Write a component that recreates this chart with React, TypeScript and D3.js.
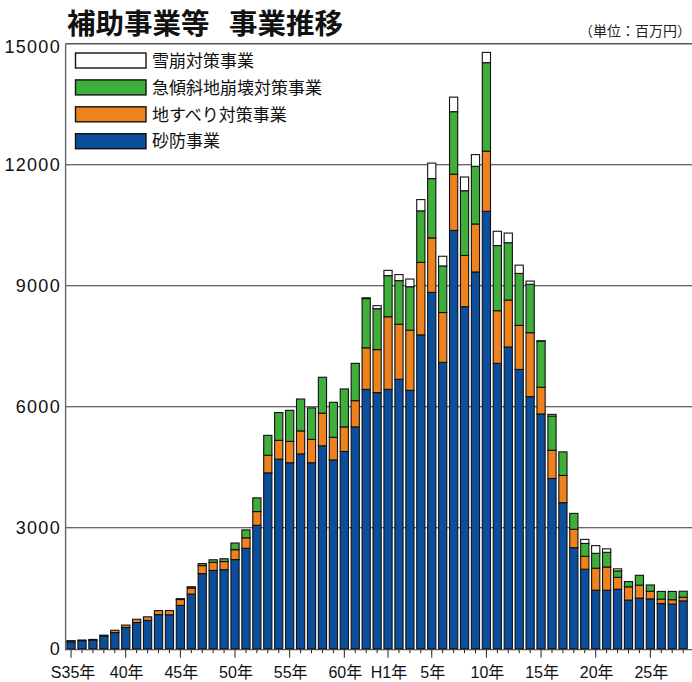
import React from "react";
import * as d3 from "d3";

const years = [
  "S35","S36","S37","S38","S39","S40","S41","S42","S43","S44",
  "S45","S46","S47","S48","S49","S50","S51","S52","S53","S54",
  "S55","S56","S57","S58","S59","S60","S61","S62","S63",
  "H1","H2","H3","H4","H5","H6","H7","H8","H9","H10",
  "H11","H12","H13","H14","H15","H16","H17","H18","H19","H20",
  "H21","H22","H23","H24","H25","H26","H27","H28",
];

// 砂防事業
const sabo = [
  170, 200, 210, 310, 400, 525, 650, 700, 845, 840,
  1075, 1355, 1860, 1940, 1960, 2210, 2490, 3060, 4360, 4700,
  4610, 4830, 4610, 5030, 4680, 4890, 5500, 6430, 6350,
  6430, 6680, 6405, 7780, 8835, 7100, 10370, 8480, 9340, 10845,
  7075, 7480, 6925, 6250, 5820, 4220, 3620, 2505, 1970, 1450,
  1450, 1475, 1205, 1255, 1235, 1120, 1105, 1185,
];
// 地すべり対策事業
const jisuberi = [
  30, 15, 20, 25, 57, 60, 80, 90, 100, 105,
  145, 150, 200, 200, 200, 245, 260, 340, 435, 465,
  530, 570, 580, 810, 560, 610, 650, 1030, 1065,
  1800, 1365, 1490, 1800, 1350, 1235, 1395, 1270, 1190, 1490,
  1305, 1165, 1090, 1585, 660, 700, 675, 455, 320, 545,
  575, 295, 330, 320, 190, 110, 110, 90,
];
// 急傾斜地崩壊対策事業
const kyukeisha = [
  0, 0, 0, 0, 0, 0, 0, 0, 0, 0,
  20, 30, 50, 65, 70, 165, 195, 340, 495, 690,
  770, 790, 780, 890, 870, 940, 925, 1220, 1015,
  1020, 1080, 1080, 1275, 1470, 1155, 1550, 1605, 1430, 2195,
  1615, 1420, 1290, 1200, 1145, 850, 585, 395, 320, 370,
  365, 160, 130, 245, 155, 190, 205, 150,
];
// 雪崩対策事業
const nadare = [
  0, 0, 0, 0, 0, 0, 0, 0, 0, 0,
  0, 0, 0, 0, 0, 0, 0, 0, 0, 0,
  0, 0, 0, 0, 0, 0, 0, 20, 75,
  130, 150, 190, 280, 385, 240, 360, 340, 290, 255,
  355, 240, 205, 80, 10, 40, 0, 0, 100, 190,
  85, 50, 0, 0, 0, 0, 0, 0,
];

const seriesKeys = ["sabo", "jisuberi", "kyukeisha", "nadare"];
const seriesNames = ["砂防事業", "地すべり対策事業", "急傾斜地崩壊対策事業", "雪崩対策事業"];
const seriesColors = ["#0b4f9c", "#f0821e", "#3fae3a", "#ffffff"];

const yTicks = [0, 3000, 6000, 9000, 12000, 15000];
const xLabelYears = ["S35","S40","S45","S50","S55","S60","H1","H5","H10","H15","H20","H25"];
const xLabelTexts = ["S35年","40年","45年","50年","55年","60年","H1年","5年","10年","15年","20年","25年"];

const W = 692;
const H = 682;
const PLOT_LEFT = 65.6;
const PLOT_RIGHT = 692;
const Y0 = 648.7;
const YTOP = 43.7;

const NUM_FONT = "'Liberation Sans', Arial, 'Noto Sans CJK JP', sans-serif";
const JP_FONT = "'Noto Sans CJK JP', 'Liberation Sans', sans-serif";

export default function App() {
  const rows = years.map((y, i) => ({
    year: y,
    sabo: sabo[i],
    jisuberi: jisuberi[i],
    kyukeisha: kyukeisha[i],
    nadare: nadare[i],
  }));

  const x = d3
    .scaleBand<string>()
    .domain(years)
    .range([PLOT_LEFT, PLOT_LEFT + years.length * 10.93])
    .paddingInner(0.25)
    .paddingOuter(0.125);

  const y = d3.scaleLinear().domain([0, 15000]).range([Y0, YTOP]);

  const stack = d3.stack<any>().keys(seriesKeys);
  const layers = stack(rows);

  const cx = (yr: string) => (x(yr) as number) + x.bandwidth() / 2;

  const legendOrder = [3, 2, 1, 0];

  return (
    <svg
      width={W}
      height={H}
      style={{ position: "absolute", left: 0, top: 0, background: "#fff" }}
      xmlns="http://www.w3.org/2000/svg"
    >
      <rect x={0} y={0} width={W} height={H} fill="#fff" />
      {/* Title */}
      <text x={67} y={34} fontFamily={JP_FONT} fontWeight="bold" fontSize={28.5} fill="#111">
        補助事業等
      </text>
      <text x={229} y={34} fontFamily={JP_FONT} fontWeight="bold" fontSize={28.5} fill="#111">
        事業推移
      </text>
      <text x={691} y={36} textAnchor="end" fontFamily={JP_FONT} fontSize={14} fill="#222">
        （単位：百万円）
      </text>

      {/* gridlines */}
      {yTicks
        .filter((t) => t > 0 && t < 15000)
        .map((t) => (
          <line key={t} x1={PLOT_LEFT} x2={PLOT_RIGHT} y1={y(t)} y2={y(t)} stroke="#333" strokeWidth={1.1} />
        ))}

      {/* frame */}
      <line x1={PLOT_LEFT} x2={PLOT_RIGHT} y1={YTOP} y2={YTOP} stroke="#555" strokeWidth={1.4} />
      <line x1={PLOT_LEFT} x2={PLOT_LEFT} y1={YTOP} y2={Y0 + 1.5} stroke="#666" strokeWidth={1.4} />
      <line x1={PLOT_LEFT} x2={PLOT_RIGHT} y1={Y0 + 1} y2={Y0 + 1} stroke="#333" strokeWidth={1} />

      {/* y labels */}
      {yTicks.map((t) => (
        <text
          key={t}
          x={61}
          y={y(t) + (t === 15000 ? 9 : 6.5)}
          textAnchor="end"
          fontFamily={NUM_FONT}
          fontSize={18}
          letterSpacing={1.3}
          fill="#111"
        >
          {t}
        </text>
      ))}

      {/* bars */}
      {layers.map((layer, li) => (
        <g key={seriesKeys[li]}>
          {layer.map((d: any, i: number) => {
            const h = y(d[0]) - y(d[1]);
            if (h <= 0.01) return null;
            return (
              <rect
                key={i}
                x={x(years[i]) as number}
                y={y(d[1])}
                width={x.bandwidth()}
                height={h}
                fill={seriesColors[li]}
                stroke="#111"
                strokeWidth={1.1}
              />
            );
          })}
        </g>
      ))}

      {/* x ticks */}
      {years.map((yr) => {
        const major = xLabelYears.includes(yr);
        return (
          <line
            key={yr}
            x1={cx(yr)}
            x2={cx(yr)}
            y1={Y0 + 1}
            y2={Y0 + (major ? 9 : 4.5)}
            stroke="#222"
            strokeWidth={1}
          />
        );
      })}
      {xLabelYears.map((yr, i) => (
        <text
          key={yr}
          x={cx(yr) + (i === 0 ? 2 : 1)}
          y={678}
          textAnchor="middle"
          fontFamily={NUM_FONT}
          fontSize={16}
          fill="#111"
        >
          {xLabelTexts[i]}
        </text>
      ))}

      {/* legend */}
      {legendOrder.map((si, k) => {
        const top = 53 + k * 26.9;
        return (
          <g key={si}>
            <rect x={75.5} y={top} width={70.5} height={15} fill={seriesColors[si]} stroke="#111" strokeWidth={1.4} />
            <text x={152} y={top + 13.7} fontFamily={JP_FONT} fontSize={17} fill="#111">
              {seriesNames[si]}
            </text>
          </g>
        );
      })}
    </svg>
  );
}
